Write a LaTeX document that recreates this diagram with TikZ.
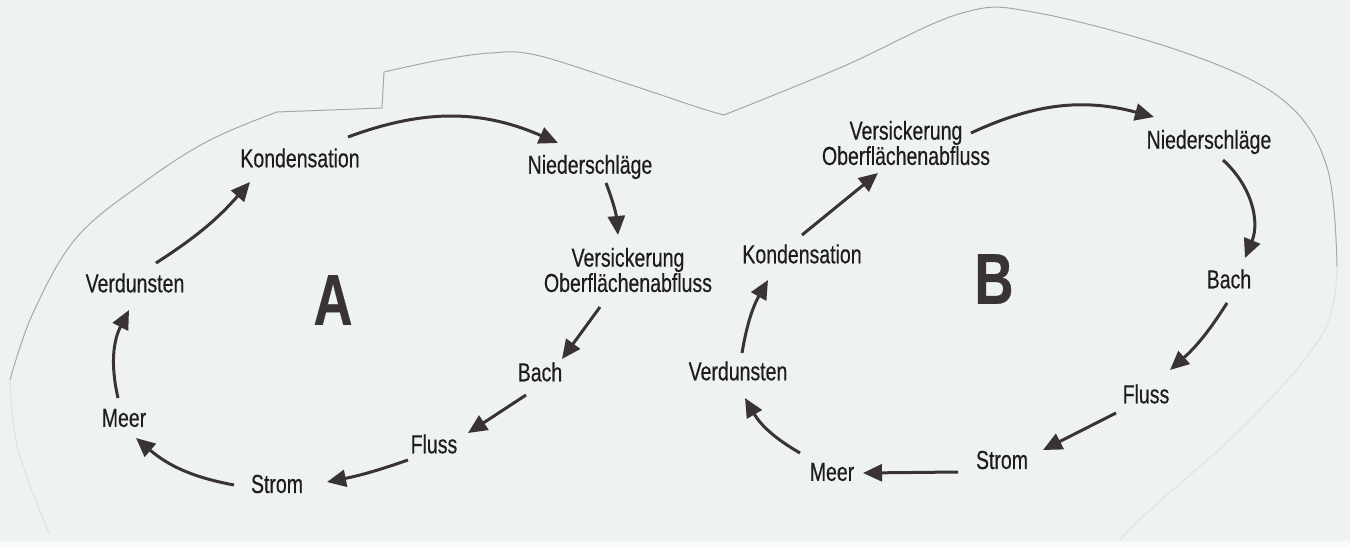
\documentclass[tikz,border=0pt]{standalone}
\usepackage{fontspec}
\setmainfont{Liberation Sans}[FakeStretch=0.75,FakeBold=0.4]
\usetikzlibrary{arrows.meta,calc}
\definecolor{bg}{RGB}{238,243,241}
\definecolor{ink}{RGB}{30,28,29}
\definecolor{arrowink}{RGB}{58,51,54}
\definecolor{edge}{RGB}{165,168,168}
\definecolor{edgefaint}{RGB}{222,227,226}
\begin{document}
\begin{tikzpicture}[x=1pt,y=-1pt,
  lbl/.style={inner sep=0pt,text=ink,font=\fontsize{26}{24}\selectfont,align=center},
  big/.style={inner sep=0pt,text=arrowink,font=\fontsize{72}{72}\selectfont\bfseries},
  arr/.style={draw=arrowink,line width=3pt,-{Triangle[length=19pt,width=17pt]}},
  paper/.style={draw=edge,line width=1pt},
  paperfaint/.style={draw=edgefaint,line width=1pt}]
\fill[bg] (0,0) rectangle (1350,547);
\useasboundingbox (0,0) rectangle (1350,547);
\fill[white!55!bg] (0,541) rectangle (1350,547);
% paper outline
\draw[paperfaint] plot[smooth,tension=0.6] coordinates {(50,535) (18,450) (10,380)};
\draw[paper] plot[smooth,tension=0.6] coordinates {(10,380) (33,313) (77,237) (147,180) (210,140) (277,112)} -- (382,108) -- (384,72);
\draw[paper] plot[smooth,tension=0.6] coordinates {(384,72) (440,60) (491,53) (536,55) (625,83) (700,108) (724,115)};
\draw[paper] plot[smooth,tension=0.6] coordinates {(724,115) (842,67) (962,13) (1038,13) (1186,53) (1283,100) (1327,167) (1337,267)};
\draw[paperfaint] plot[smooth,tension=0.6] coordinates {(1337,267) (1323,333) (1250,420) (1150,510) (1120,540)};
% cycle A
\node[lbl] (kA) at (300,158) {Kondensation};
\node[lbl] (nA) at (590,167) {Niederschläge};
\node[lbl] (vA) at (628,270) {Versickerung\\Oberflächenabfluss};
\node[lbl] (verdA) at (135,283) {Verdunsten};
\node[lbl] (bachA) at (540,372) {Bach};
\node[lbl] (meerA) at (124,418) {Meer};
\node[lbl] (flA) at (434,444) {Fluss};
\node[lbl] (stA) at (277,484) {Strom};
\node[big] (bigA) at (333,300) {A};
\draw[arr] ($(kA)+(48,-21)$) to[bend left=22] ($(nA)+(-32,-24)$);
\draw[arr] ($(nA)+(16,16)$) to[bend left=8] ($(vA)+(-10,-35)$);
\draw[arr] ($(vA)+(-28,37)$) -- ($(bachA)+(22,-13)$);
\draw[arr] ($(bachA)+(-14,23)$) -- ($(flA)+(34,-11)$);
\draw[arr] ($(flA)+(-26,16)$) to[bend left=4] ($(stA)+(50,-2)$);
\draw[arr] ($(stA)+(-43,1)$) to[bend left=15] ($(meerA)+(12,20)$);
\draw[arr] ($(meerA)+(-6,-20)$) to[bend left=20] ($(verdA)+(-6,27)$);
\draw[arr] ($(verdA)+(21,-20)$) to[bend right=8] ($(kA)+(-50,24)$);
% cycle B
\node[lbl] (vB) at (906,143) {Versickerung\\Oberflächenabfluss};
\node[lbl] (nB) at (1209,142) {Niederschläge};
\node[lbl] (kB) at (802,254) {Kondensation};
\node[lbl] (bachB) at (1229,279) {Bach};
\node[lbl] (verdB) at (738,371) {Verdunsten};
\node[lbl] (flB) at (1146,394) {Fluss};
\node[lbl] (stB) at (1002,460) {Strom};
\node[lbl] (meerB) at (832,472) {Meer};
\node[big] (bigB) at (994,279) {B};
\draw[arr] ($(vB)+(65,-10)$) to[bend left=20] ($(nB)+(-55,-25)$);
\draw[arr] ($(nB)+(14,18)$) to[bend left=35] ($(bachB)+(16,-21)$);
\draw[arr] ($(bachB)+(-2,24)$) to[bend left=8] ($(flB)+(24,-24)$);
\draw[arr] ($(flB)+(-30,19)$) -- ($(stB)+(41,-10)$);
\draw[arr] ($(stB)+(-44,12)$) -- ($(meerB)+(31,1)$);
\draw[arr] ($(meerB)+(-32,-19)$) to[bend left=15] ($(verdB)+(7,27)$);
\draw[arr] ($(verdB)+(4,-18)$) to[bend left=10] ($(kB)+(-34,26)$);
\draw[arr] ($(kB)+(0,-19)$) -- ($(vB)+(-28,30)$);
\end{tikzpicture}
\end{document}
